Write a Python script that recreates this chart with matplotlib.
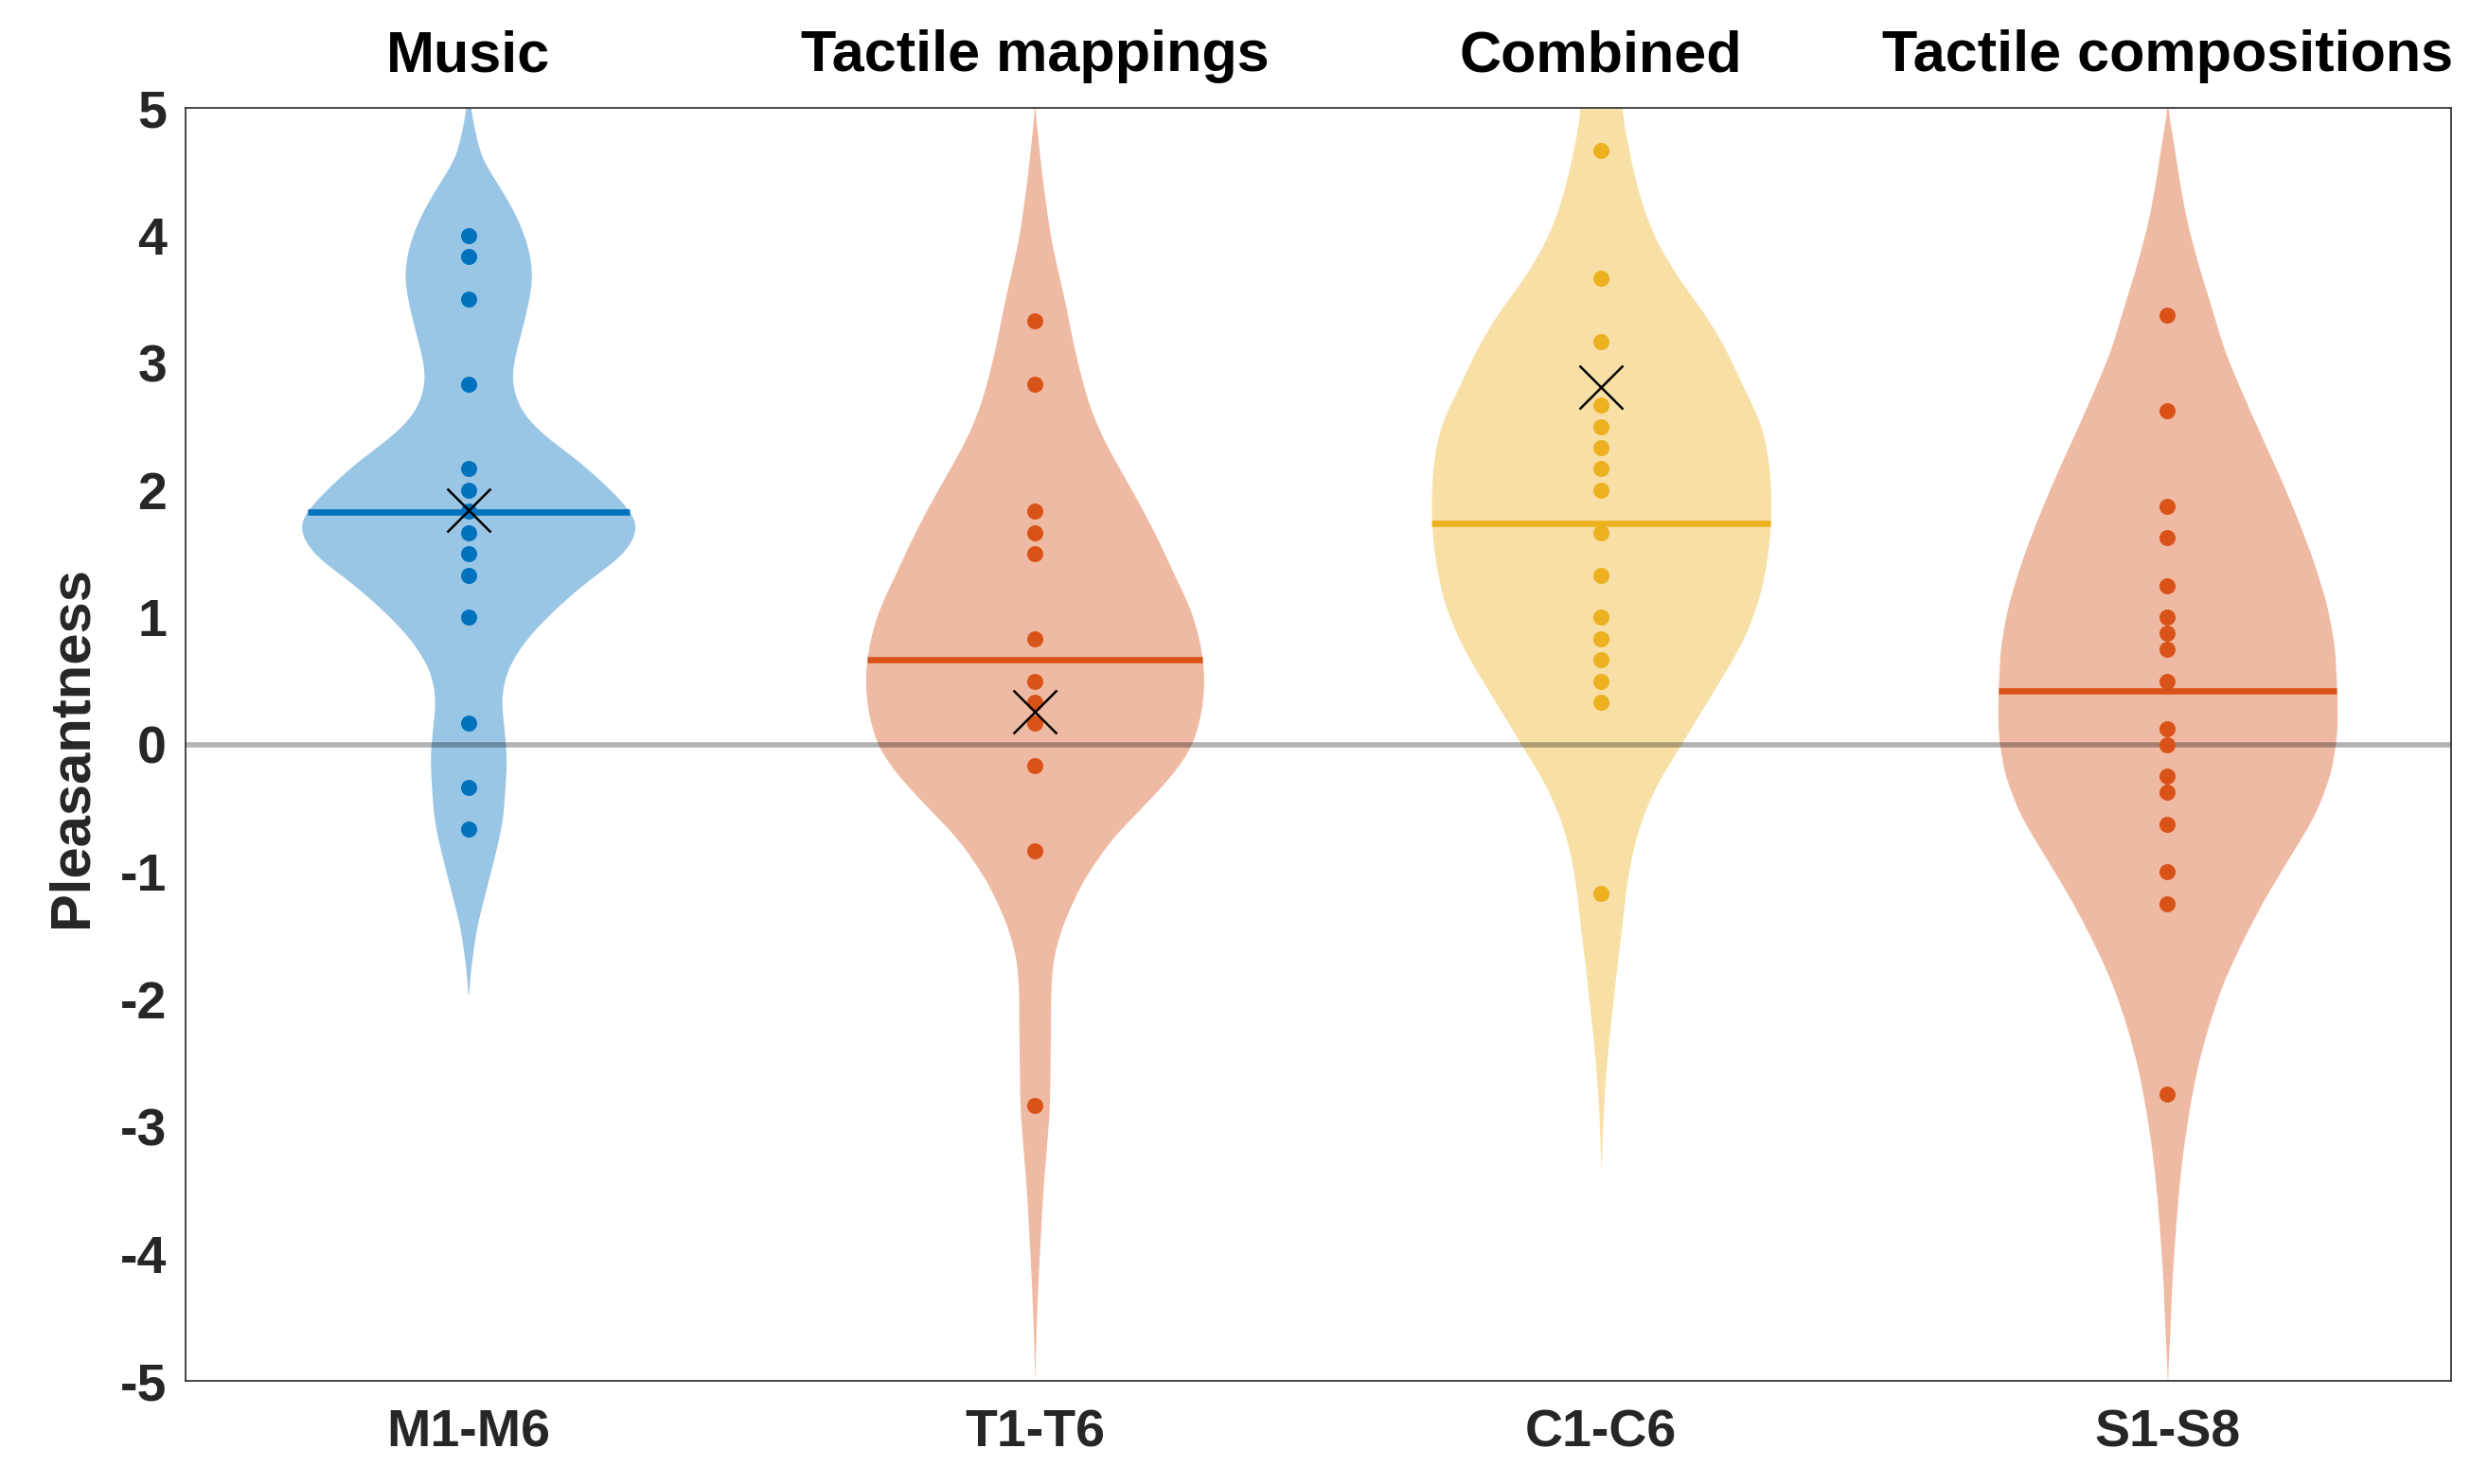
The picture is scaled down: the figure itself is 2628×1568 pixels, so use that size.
import numpy as np
import matplotlib.pyplot as plt
import matplotlib.transforms as mtransforms

plt.rcParams['font.family'] = ['Liberation Sans', 'DejaVu Sans']
plt.rcParams['axes.unicode_minus'] = False

# group names and tick labels
groups = ['Music', 'Tactile mappings', 'Combined', 'Tactile compositions']
tick_labels = ['M1-M6', 'T1-T6', 'C1-C6', 'S1-S8']

# pleasantness values (dots)
music = [4.0, 3.833, 3.5, 2.833, 2.167, 2.0, 1.833, 1.667, 1.5, 1.333, 1.0,
         0.167, -0.333, -0.667]
tactile_map = [3.333, 2.833, 1.833, 1.667, 1.5, 0.833, 0.5, 0.333, 0.167,
               -0.167, -0.833, -2.833]
combined = [4.667, 3.667, 3.167, 2.667, 2.5, 2.333, 2.167, 2.0, 1.667, 1.333,
            1.0, 0.833, 0.667, 0.5, 0.333, -1.167]
tactile_comp = [3.375, 2.625, 1.875, 1.625, 1.25, 1.0, 0.875, 0.75, 0.5,
                0.125, 0.0, -0.25, -0.375, -0.625, -1.0, -1.25, -2.75]

# horizontal line per violin and black cross marker
mean_lines = [1.83, 0.67, 1.74, 0.42]
x_marks = [1.84, 0.26, 2.81, None]

# violin outlines: level and half width (x units)
music_py = [-1.96, -1.73, -1.44, -1.16, -0.85, -0.59, -0.12, 0.1, 0.355,
            0.59, 0.83, 1.06, 1.30, 1.49, 1.68, 1.77, 2.01, 2.25, 2.44, 2.63,
            2.84, 2.96, 3.19, 3.43, 3.67, 3.90, 4.14, 4.38, 4.61, 5.0]
music_pw = [0.0, 0.005, 0.014, 0.030, 0.048, 0.061, 0.068, 0.064, 0.057,
            0.067, 0.101, 0.151, 0.213, 0.275, 0.300, 0.300, 0.250, 0.190,
            0.129, 0.090, 0.076, 0.077, 0.090, 0.104, 0.114, 0.107, 0.087,
            0.056, 0.022, 0.003]
tmap_py = [-4.96, -4.53, -4.20, -3.87, -3.53, -3.20, -2.87, -2.54, -2.21,
           -1.94, -1.68, -1.41, -1.08, -0.75, -0.42, -0.2, 0.0, 0.26, 0.52,
           0.79, 1.06, 1.32, 1.59, 1.86, 2.12, 2.39, 2.65, 2.92, 3.19, 3.45,
           3.72, 3.98, 4.42, 4.75, 5.0]
tmap_pw = [0.0, 0.003, 0.006, 0.010, 0.014, 0.020, 0.026, 0.027, 0.028,
           0.028, 0.032, 0.049, 0.083, 0.133, 0.205, 0.250, 0.279, 0.295,
           0.300, 0.293, 0.276, 0.248, 0.220, 0.189, 0.156, 0.122, 0.097,
           0.080, 0.066, 0.055, 0.041, 0.028, 0.014, 0.006, 0.0]
comb_py = [-3.32, -2.87, -2.59, -2.30, -2.02, -1.73, -1.45, -1.16, -0.88,
           -0.60, -0.31, -0.03, 0.26, 0.54, 0.82, 1.11, 1.39, 1.68, 1.96,
           2.24, 2.53, 2.81, 3.10, 3.38, 3.66, 3.95, 4.23, 4.52, 4.80, 5.0]
comb_pw = [0.0, 0.004, 0.008, 0.014, 0.021, 0.028, 0.036, 0.043, 0.053,
           0.070, 0.098, 0.137, 0.176, 0.215, 0.251, 0.277, 0.291, 0.299,
           0.300, 0.296, 0.282, 0.251, 0.221, 0.184, 0.137, 0.098, 0.073,
           0.056, 0.043, 0.036]
tcomp_py = [-5.0, -4.53, -4.20, -3.87, -3.53, -3.20, -2.87, -2.54, -2.21,
            -1.88, -1.55, -1.21, -0.88, -0.55, -0.22, 0.11, 0.44, 0.78, 1.11,
            1.44, 1.77, 2.10, 2.43, 2.77, 3.10, 3.43, 3.76, 4.09, 4.42, 4.75,
            5.0]
tcomp_pw = [0.0, 0.005, 0.008, 0.013, 0.019, 0.027, 0.038, 0.052, 0.072,
            0.097, 0.131, 0.171, 0.216, 0.261, 0.289, 0.300, 0.299, 0.295,
            0.281, 0.258, 0.230, 0.199, 0.165, 0.131, 0.100, 0.078, 0.055,
            0.035, 0.021, 0.010, 0.0]

colors = ['#0072BD', '#D95319', '#EDB120', '#D95319']

data = [music, tactile_map, combined, tactile_comp]
outlines = [(music_py, music_pw), (tmap_py, tmap_pw),
            (comb_py, comb_pw), (tcomp_py, tcomp_pw)]


def smooth_outline(py, pw, sigma=0.09):
    # resample the read outline finely and soften the corners
    yy = np.linspace(py[0], py[-1], 600)
    ww = np.interp(yy, py, pw)
    step = yy[1] - yy[0]
    k = np.arange(-int(4 * sigma / step), int(4 * sigma / step) + 1) * step
    kern = np.exp(-0.5 * (k / sigma) ** 2)
    kern /= kern.sum()
    n = len(k) // 2
    padded = np.concatenate([np.full(n, ww[0]), ww, np.full(n, ww[-1])])
    ws = np.convolve(padded, kern, mode='valid')
    return yy, ws


fig = plt.figure(figsize=(26.28, 15.68), dpi=100)
ax = fig.add_axes([0.0744, 0.0695, 0.9106, 0.8575])

ax.axhline(0, color='k', alpha=0.3, lw=4, zorder=2)

for i, vals in enumerate(data):
    pos = i + 1
    yy, ww = smooth_outline(np.array(outlines[i][0]), np.array(outlines[i][1]))
    ax.fill_betweenx(yy, pos - ww, pos + ww, color=colors[i], alpha=0.4,
                     lw=0, zorder=1)

    hw = np.interp(mean_lines[i], yy, ww)
    ax.plot([pos - hw, pos + hw], [mean_lines[i], mean_lines[i]],
            color=colors[i], lw=4.8, zorder=3, solid_capstyle='butt')

    ax.scatter(np.full(len(vals), pos), vals, s=150, color=colors[i],
               lw=0, zorder=4)

    if x_marks[i] is not None:
        ax.plot(pos, x_marks[i], marker='x', ms=33, mew=1.8, color='k',
                zorder=5)

trans = mtransforms.blended_transform_factory(ax.transData, ax.transAxes)
for i, name in enumerate(groups):
    ax.text(i + 1, 1.029, name, transform=trans, ha='center', va='baseline',
            fontsize=44, fontweight='bold', color='k')

ax.set_xlim(0.5, 4.5)
ax.set_ylim(-5, 5)
ax.set_xticks([1, 2, 3, 4])
ax.set_xticklabels(tick_labels)
ax.set_yticks(range(-5, 6))
ax.tick_params(length=0, labelsize=40, colors='#262626')
ax.tick_params(axis='x', pad=21)
ax.tick_params(axis='y', pad=14)
for lab in ax.get_xticklabels() + ax.get_yticklabels():
    lab.set_fontweight('bold')
for sp in ax.spines.values():
    sp.set_color('#262626')
    sp.set_linewidth(1.2)

fig.text(0.029, 0.497, 'Pleasantness', rotation=90, ha='center', va='center',
         fontsize=43, fontweight='bold', color='#262626')

fig.savefig('out.png', dpi=100)
